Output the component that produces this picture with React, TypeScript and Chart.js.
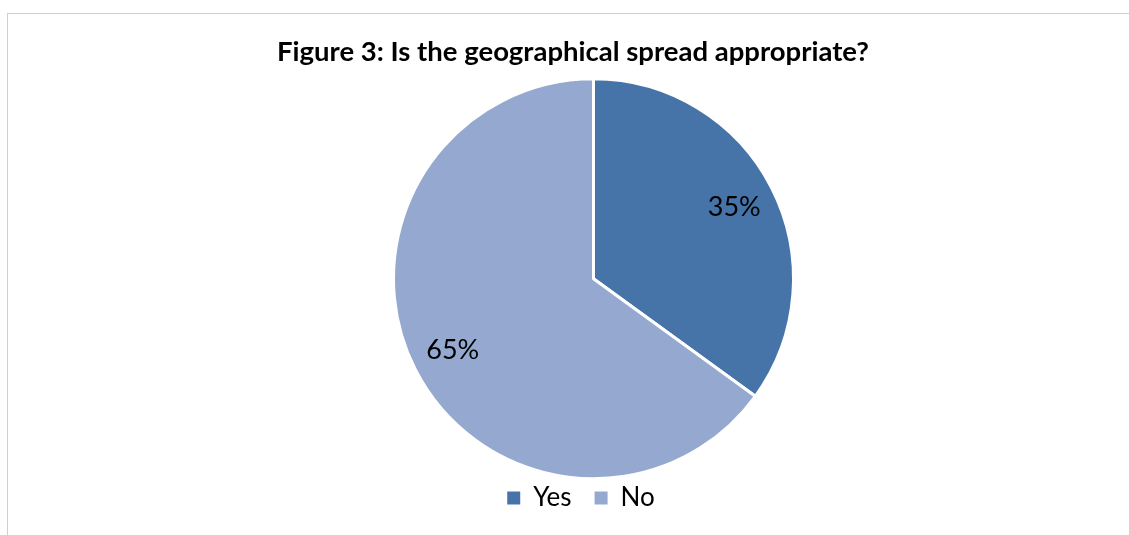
import React, { useEffect, useRef } from "react";
import { Chart, registerables } from "chart.js";

Chart.register(...registerables);

const TITLE = "Figure 3: Is the geographical spread appropriate?";
const CATEGORIES = ["Yes", "No"];
const VALUES = [35, 65];
const COLORS = ["#4674A8", "#95A9D0"];

const W = 1129;
const H = 535;
const PIE_SHIFT_X = 20.5;
const LEGEND_SHIFT_X = 8;
const LABEL_RADIUS = 0.79;

const FONT = "Lato, 'Open Sans', sans-serif";

const layoutShiftPlugin = {
  id: "layoutShift",
  afterLayout(chart: any) {
    const a = chart.chartArea;
    a.left += PIE_SHIFT_X;
    a.right += PIE_SHIFT_X;
    if (chart.legend) {
      chart.legend.left += LEGEND_SHIFT_X;
      chart.legend.right += LEGEND_SHIFT_X;
    }
  },
};

const sliceLabelPlugin = {
  id: "sliceLabels",
  afterDatasetsDraw(chart: any) {
    const ctx = chart.ctx;
    const meta = chart.getDatasetMeta(0);
    const total = VALUES.reduce((s, v) => s + v, 0);
    meta.data.forEach((arc: any, i: number) => {
      const { x, y, startAngle, endAngle, outerRadius } = arc.getProps(
        ["x", "y", "startAngle", "endAngle", "outerRadius"],
        true
      );
      const mid = (startAngle + endAngle) / 2;
      const r = outerRadius * LABEL_RADIUS;
      ctx.save();
      ctx.font = `27px ${FONT}`;
      ctx.fillStyle = "#000";
      ctx.textAlign = "center";
      ctx.textBaseline = "middle";
      ctx.fillText(
        `${Math.round((VALUES[i] / total) * 100)}%`,
        x + Math.cos(mid) * r,
        y + Math.sin(mid) * r
      );
      ctx.restore();
    });
  },
};

export default function App() {
  const ref = useRef<HTMLCanvasElement>(null);

  useEffect(() => {
    if (!ref.current) return;
    const chart = new Chart(ref.current, {
      type: "pie",
      data: {
        labels: CATEGORIES,
        datasets: [
          {
            data: VALUES,
            backgroundColor: COLORS,
            borderColor: "#ffffff",
            borderWidth: 3,
            radius: 200,
            clip: false,
          } as any,
        ],
      },
      options: {
        responsive: false,
        animation: false,
        devicePixelRatio: 1,
        layout: { padding: { top: 0, bottom: 14, left: 17, right: 0 } },
        plugins: {
          title: {
            display: true,
            text: TITLE,
            color: "#000",
            font: { family: FONT, size: 27.5, weight: "bold", lineHeight: 1.2 },
            padding: { top: 35.5, bottom: 27 },
          },
          legend: {
            display: true,
            position: "bottom",
            labels: {
              color: "#000",
              font: { family: FONT, size: 26 },
              boxWidth: 13,
              boxHeight: 13,
              padding: 23,
              generateLabels: (chart: any) => {
                const base = (Chart as any).overrides.pie.plugins.legend.labels.generateLabels(chart);
                return base.map((l: any) => ({ ...l, lineWidth: 0 }));
              },
            },
          },
          tooltip: { enabled: false },
        },
      },
      plugins: [layoutShiftPlugin, sliceLabelPlugin],
    });
    return () => chart.destroy();
  }, []);

  return (
    <div
      style={{
        position: "fixed",
        left: 0,
        top: 0,
        width: W,
        height: H,
        background: "#fff",
        overflow: "hidden",
      }}
    >
      <div
        style={{
          position: "absolute",
          left: 7,
          top: 13,
          right: 0,
          bottom: 0,
          borderTop: "1px solid #cfcfcf",
          borderLeft: "1px solid #cfcfcf",
        }}
      />
      <canvas
        ref={ref}
        width={W}
        height={H}
        style={{ position: "absolute", left: 0, top: 0, width: W, height: H }}
      />
    </div>
  );
}
